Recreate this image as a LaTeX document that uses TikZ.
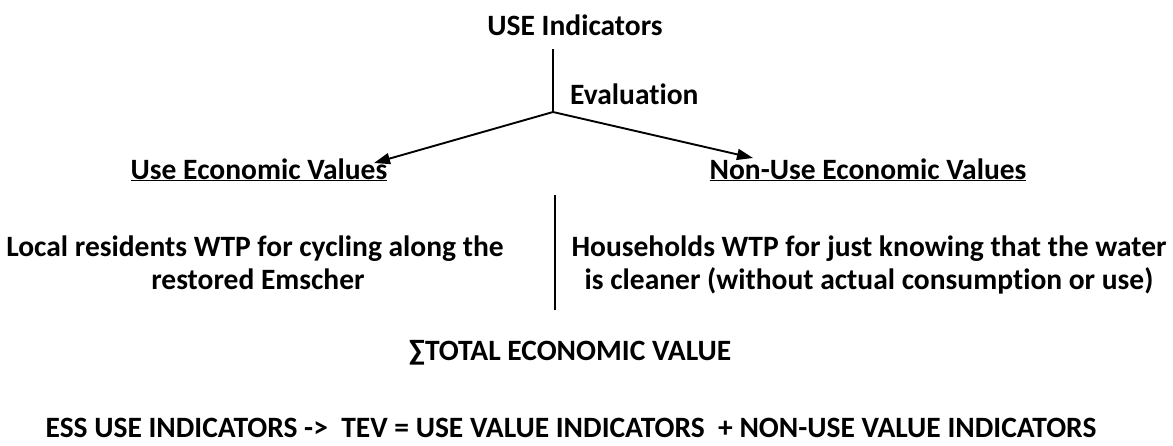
\documentclass[tikz,border=0pt]{standalone}
\usepackage{fontspec}
\setmainfont[Ligatures=NoCommon]{Carlito}
\usetikzlibrary{arrows.meta}
\begin{document}
\begin{tikzpicture}[x=1pt,y=-1pt,
  lbl/.style={font=\fontsize{29.5}{34}\selectfont\bfseries, inner sep=0pt, align=center, anchor=base},
  ln/.style={line width=1.9pt},
  arr/.style={line width=1.9pt, -{Triangle[length=16pt,width=11pt]}}]
\useasboundingbox (0,0) rectangle (1173,445);
\node[lbl] (use) at (575,35) {USE Indicators};
\coordinate (top) at (553,49);
\coordinate (fork) at (553,112);
\node[lbl, anchor=base west] (eval) at (570,104) {Evaluation};
\node[lbl] (uev) at (259,179) {\underline{Use Economic Values}};
\node[lbl] (nuev) at (868,179) {\underline{Non-Use Economic Values}};
\coordinate (l) at (374,163);
\coordinate (r) at (753,158);
\draw[ln] (top) -- (fork);
\draw[arr] (fork) -- (l);
\draw[arr] (fork) -- (r);
\node[lbl, anchor=base] (left) at (255,256) {Local residents WTP for cycling along the};
\node[lbl, anchor=base] (left2) at (258,289) {restored Emscher};
\node[lbl, anchor=base] (right) at (869,256) {Households WTP for just knowing that the water};
\node[lbl, anchor=base] (right2) at (869,289) {is cleaner (without actual consumption or use)};
\coordinate (s1) at (555,195);
\coordinate (s2) at (555,310);
\draw[ln] (s1) -- (s2);
\node[lbl] (tev) at (570,360) {∑TOTAL ECONOMIC VALUE};
\node[lbl] (eq) at (571,437) {ESS USE INDICATORS ->~ TEV = USE VALUE INDICATORS ~+ NON-USE VALUE INDICATORS};
\end{tikzpicture}
\end{document}
